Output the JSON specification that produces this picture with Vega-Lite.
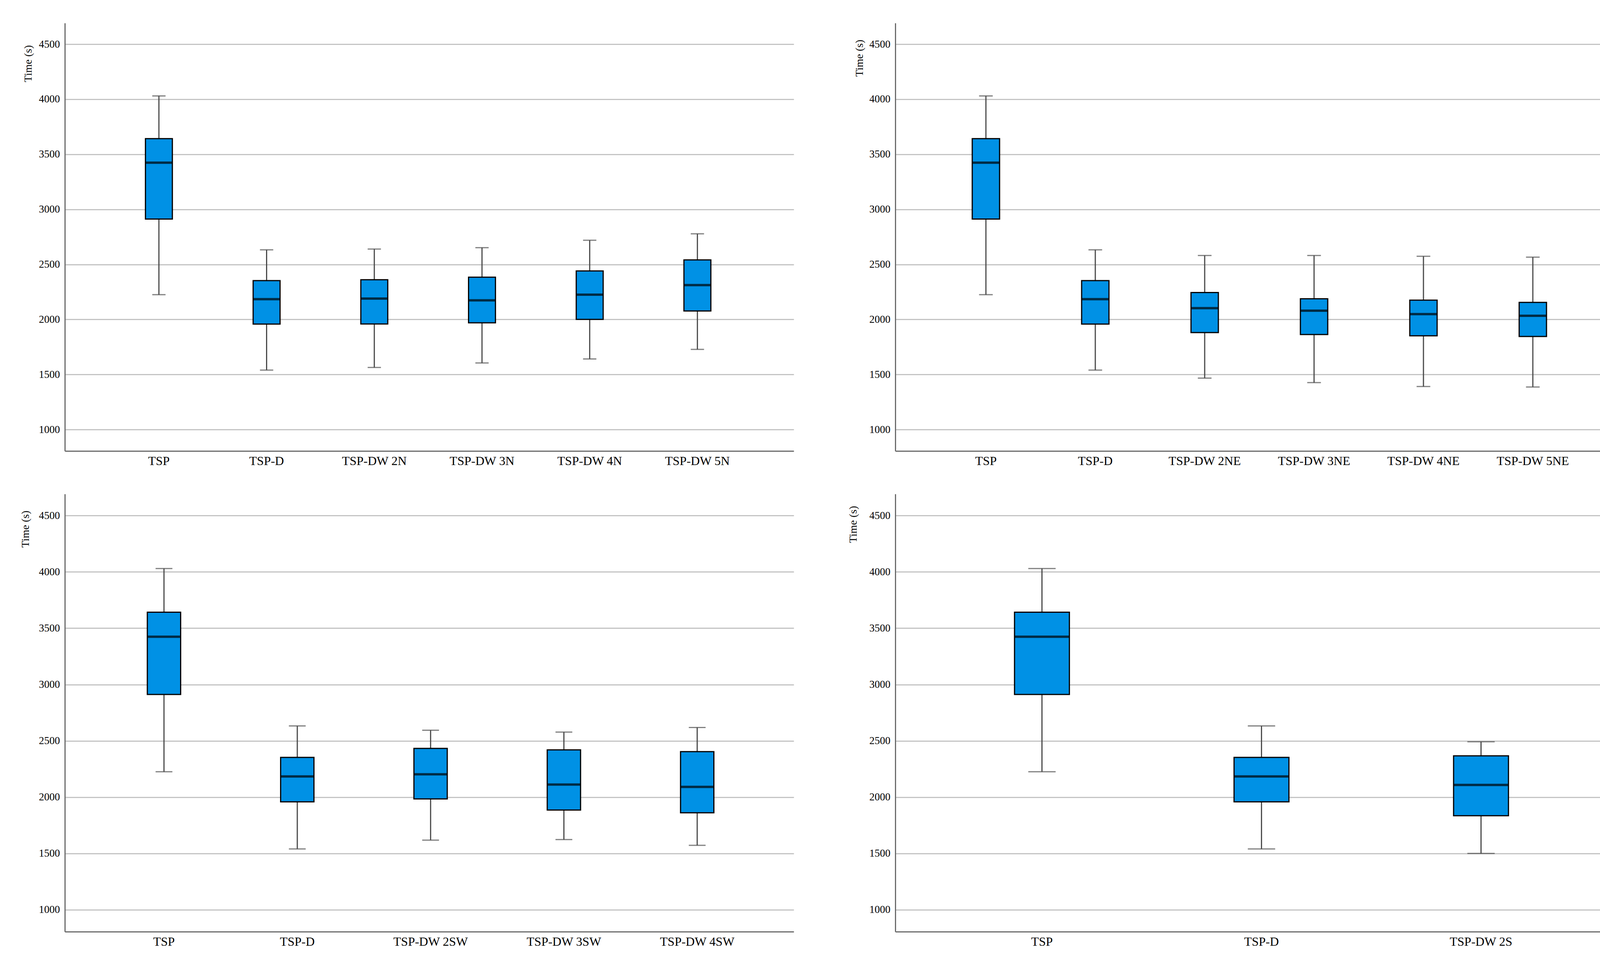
{
  "$schema": "https://vega.github.io/schema/vega-lite/v6.json",
  "background": "white",
  "padding": {"left": 50, "top": 59, "right": 5, "bottom": 5},
  "datasets": {
    "p1": [
      {"group": "TSP", "min": 2225, "q1": 2912, "median": 3424, "q3": 3642, "max": 4030},
      {"group": "TSP-D", "min": 1540, "q1": 1958, "median": 2184, "q3": 2353, "max": 2632},
      {"group": "TSP-DW 2N", "min": 1564, "q1": 1959, "median": 2189, "q3": 2361, "max": 2639},
      {"group": "TSP-DW 3N", "min": 1605, "q1": 1969, "median": 2173, "q3": 2384, "max": 2652},
      {"group": "TSP-DW 4N", "min": 1641, "q1": 2000, "median": 2225, "q3": 2441, "max": 2719},
      {"group": "TSP-DW 5N", "min": 1728, "q1": 2077, "median": 2312, "q3": 2541, "max": 2778}
    ],
    "p2": [
      {"group": "TSP", "min": 2225, "q1": 2912, "median": 3424, "q3": 3642, "max": 4030},
      {"group": "TSP-D", "min": 1540, "q1": 1958, "median": 2184, "q3": 2353, "max": 2632},
      {"group": "TSP-DW 2NE", "min": 1467, "q1": 1881, "median": 2102, "q3": 2244, "max": 2581},
      {"group": "TSP-DW 3NE", "min": 1426, "q1": 1863, "median": 2079, "q3": 2188, "max": 2581},
      {"group": "TSP-DW 4NE", "min": 1391, "q1": 1851, "median": 2048, "q3": 2175, "max": 2574},
      {"group": "TSP-DW 5NE", "min": 1386, "q1": 1845, "median": 2033, "q3": 2155, "max": 2566}
    ],
    "p3": [
      {"group": "TSP", "min": 2225, "q1": 2912, "median": 3424, "q3": 3642, "max": 4030},
      {"group": "TSP-D", "min": 1540, "q1": 1958, "median": 2184, "q3": 2353, "max": 2632},
      {"group": "TSP-DW 2SW", "min": 1618, "q1": 1984, "median": 2203, "q3": 2433, "max": 2594},
      {"group": "TSP-DW 3SW", "min": 1623, "q1": 1885, "median": 2112, "q3": 2420, "max": 2578},
      {"group": "TSP-DW 4SW", "min": 1572, "q1": 1861, "median": 2091, "q3": 2404, "max": 2618}
    ],
    "p4": [
      {"group": "TSP", "min": 2225, "q1": 2912, "median": 3424, "q3": 3642, "max": 4030},
      {"group": "TSP-D", "min": 1540, "q1": 1958, "median": 2184, "q3": 2353, "max": 2632},
      {"group": "TSP-DW 2S", "min": 1500, "q1": 1835, "median": 2108, "q3": 2367, "max": 2492}
    ]
  },
  "bounds": "flush",
  "columns": 2,
  "spacing": {"row": 110, "column": 260},
  "concat": [
    {
      "width": 1866, "height": 1095,
      "data": {"name": "p1"},
      "encoding": {
        "x": {"field": "group", "type": "nominal", "sort": null, "title": null,
              "scale": {"paddingInner": 0.75, "paddingOuter": 0.759, "align": 0.493}}
      },
      "layer": [
        {"mark": {"type": "rule", "color": "#4a4a4a", "strokeWidth": 3},
         "encoding": {"y": {"field": "min", "type": "quantitative", "title": "Time (s)",
                            "scale": {"domain": [805, 4692], "nice": false, "zero": false},
                            "axis": {"format": "d", "values": [1000, 1500, 2000, 2500, 3000, 3500, 4000, 4500], "titleX": -94, "titleY": 56}},
                      "y2": {"field": "max"}}},
        {"mark": {"type": "tick", "color": "#4a4a4a", "thickness": 3, "size": 34},
         "encoding": {"y": {"field": "min", "type": "quantitative", "title": "Time (s)",
                            "scale": {"domain": [805, 4692], "nice": false, "zero": false},
                            "axis": {"format": "d", "values": [1000, 1500, 2000, 2500, 3000, 3500, 4000, 4500], "titleX": -94, "titleY": 56}}}},
        {"mark": {"type": "tick", "color": "#4a4a4a", "thickness": 3, "size": 34},
         "encoding": {"y": {"field": "max", "type": "quantitative", "title": "Time (s)",
                            "scale": {"domain": [805, 4692], "nice": false, "zero": false},
                            "axis": {"format": "d", "values": [1000, 1500, 2000, 2500, 3000, 3500, 4000, 4500], "titleX": -94, "titleY": 56}}}},
        {"mark": {"type": "bar", "fill": "#0091e5", "stroke": "#000000", "strokeWidth": 3},
         "encoding": {"y": {"field": "q1", "type": "quantitative", "title": "Time (s)",
                            "scale": {"domain": [805, 4692], "nice": false, "zero": false},
                            "axis": {"format": "d", "values": [1000, 1500, 2000, 2500, 3000, 3500, 4000, 4500], "titleX": -94, "titleY": 56}},
                      "y2": {"field": "q3"}}},
        {"mark": {"type": "tick", "color": "#000000", "thickness": 6, "size": 69},
         "encoding": {"y": {"field": "median", "type": "quantitative", "title": "Time (s)",
                            "scale": {"domain": [805, 4692], "nice": false, "zero": false},
                            "axis": {"format": "d", "values": [1000, 1500, 2000, 2500, 3000, 3500, 4000, 4500], "titleX": -94, "titleY": 56}}}}
      ]
    },
    {
      "width": 1870, "height": 1095,
      "data": {"name": "p2"},
      "encoding": {
        "x": {"field": "group", "type": "nominal", "sort": null, "title": null,
              "scale": {"paddingInner": 0.75, "paddingOuter": 0.714, "align": 0.4925}}
      },
      "layer": [
        {"mark": {"type": "rule", "color": "#4a4a4a", "strokeWidth": 3},
         "encoding": {"y": {"field": "min", "type": "quantitative", "title": "Time (s)",
                            "scale": {"domain": [805, 4692], "nice": false, "zero": false},
                            "axis": {"format": "d", "values": [1000, 1500, 2000, 2500, 3000, 3500, 4000, 4500], "titleX": -92, "titleY": 42}},
                      "y2": {"field": "max"}}},
        {"mark": {"type": "tick", "color": "#4a4a4a", "thickness": 3, "size": 35},
         "encoding": {"y": {"field": "min", "type": "quantitative", "title": "Time (s)",
                            "scale": {"domain": [805, 4692], "nice": false, "zero": false},
                            "axis": {"format": "d", "values": [1000, 1500, 2000, 2500, 3000, 3500, 4000, 4500], "titleX": -92, "titleY": 42}}}},
        {"mark": {"type": "tick", "color": "#4a4a4a", "thickness": 3, "size": 35},
         "encoding": {"y": {"field": "max", "type": "quantitative", "title": "Time (s)",
                            "scale": {"domain": [805, 4692], "nice": false, "zero": false},
                            "axis": {"format": "d", "values": [1000, 1500, 2000, 2500, 3000, 3500, 4000, 4500], "titleX": -92, "titleY": 42}}}},
        {"mark": {"type": "bar", "fill": "#0091e5", "stroke": "#000000", "strokeWidth": 3},
         "encoding": {"y": {"field": "q1", "type": "quantitative", "title": "Time (s)",
                            "scale": {"domain": [805, 4692], "nice": false, "zero": false},
                            "axis": {"format": "d", "values": [1000, 1500, 2000, 2500, 3000, 3500, 4000, 4500], "titleX": -92, "titleY": 42}},
                      "y2": {"field": "q3"}}},
        {"mark": {"type": "tick", "color": "#000000", "thickness": 6, "size": 70},
         "encoding": {"y": {"field": "median", "type": "quantitative", "title": "Time (s)",
                            "scale": {"domain": [805, 4692], "nice": false, "zero": false},
                            "axis": {"format": "d", "values": [1000, 1500, 2000, 2500, 3000, 3500, 4000, 4500], "titleX": -92, "titleY": 42}}}}
      ]
    },
    {
      "width": 1866, "height": 1120,
      "data": {"name": "p3"},
      "encoding": {
        "x": {"field": "group", "type": "nominal", "sort": null, "title": null,
              "scale": {"paddingInner": 0.75, "paddingOuter": 0.609, "align": 0.508}}
      },
      "layer": [
        {"mark": {"type": "rule", "color": "#4a4a4a", "strokeWidth": 3},
         "encoding": {"y": {"field": "min", "type": "quantitative", "title": "Time (s)",
                            "scale": {"domain": [805, 4692], "nice": false, "zero": false},
                            "axis": {"format": "d", "values": [1000, 1500, 2000, 2500, 3000, 3500, 4000, 4500], "titleX": -101, "titleY": 42}},
                      "y2": {"field": "max"}}},
        {"mark": {"type": "tick", "color": "#4a4a4a", "thickness": 3, "size": 43},
         "encoding": {"y": {"field": "min", "type": "quantitative", "title": "Time (s)",
                            "scale": {"domain": [805, 4692], "nice": false, "zero": false},
                            "axis": {"format": "d", "values": [1000, 1500, 2000, 2500, 3000, 3500, 4000, 4500], "titleX": -101, "titleY": 42}}}},
        {"mark": {"type": "tick", "color": "#4a4a4a", "thickness": 3, "size": 43},
         "encoding": {"y": {"field": "max", "type": "quantitative", "title": "Time (s)",
                            "scale": {"domain": [805, 4692], "nice": false, "zero": false},
                            "axis": {"format": "d", "values": [1000, 1500, 2000, 2500, 3000, 3500, 4000, 4500], "titleX": -101, "titleY": 42}}}},
        {"mark": {"type": "bar", "fill": "#0091e5", "stroke": "#000000", "strokeWidth": 3},
         "encoding": {"y": {"field": "q1", "type": "quantitative", "title": "Time (s)",
                            "scale": {"domain": [805, 4692], "nice": false, "zero": false},
                            "axis": {"format": "d", "values": [1000, 1500, 2000, 2500, 3000, 3500, 4000, 4500], "titleX": -101, "titleY": 42}},
                      "y2": {"field": "q3"}}},
        {"mark": {"type": "tick", "color": "#000000", "thickness": 6, "size": 85},
         "encoding": {"y": {"field": "median", "type": "quantitative", "title": "Time (s)",
                            "scale": {"domain": [805, 4692], "nice": false, "zero": false},
                            "axis": {"format": "d", "values": [1000, 1500, 2000, 2500, 3000, 3500, 4000, 4500], "titleX": -101, "titleY": 42}}}}
      ]
    },
    {
      "width": 1870, "height": 1120,
      "data": {"name": "p4"},
      "encoding": {
        "x": {"field": "group", "type": "nominal", "sort": null, "title": null,
              "scale": {"paddingInner": 0.75, "paddingOuter": 0.5387, "align": 0.504}}
      },
      "layer": [
        {"mark": {"type": "rule", "color": "#4a4a4a", "strokeWidth": 3},
         "encoding": {"y": {"field": "min", "type": "quantitative", "title": "Time (s)",
                            "scale": {"domain": [805, 4692], "nice": false, "zero": false},
                            "axis": {"format": "d", "values": [1000, 1500, 2000, 2500, 3000, 3500, 4000, 4500], "titleX": -108, "titleY": 30}},
                      "y2": {"field": "max"}}},
        {"mark": {"type": "tick", "color": "#4a4a4a", "thickness": 3, "size": 70},
         "encoding": {"y": {"field": "min", "type": "quantitative", "title": "Time (s)",
                            "scale": {"domain": [805, 4692], "nice": false, "zero": false},
                            "axis": {"format": "d", "values": [1000, 1500, 2000, 2500, 3000, 3500, 4000, 4500], "titleX": -108, "titleY": 30}}}},
        {"mark": {"type": "tick", "color": "#4a4a4a", "thickness": 3, "size": 70},
         "encoding": {"y": {"field": "max", "type": "quantitative", "title": "Time (s)",
                            "scale": {"domain": [805, 4692], "nice": false, "zero": false},
                            "axis": {"format": "d", "values": [1000, 1500, 2000, 2500, 3000, 3500, 4000, 4500], "titleX": -108, "titleY": 30}}}},
        {"mark": {"type": "bar", "fill": "#0091e5", "stroke": "#000000", "strokeWidth": 3},
         "encoding": {"y": {"field": "q1", "type": "quantitative", "title": "Time (s)",
                            "scale": {"domain": [805, 4692], "nice": false, "zero": false},
                            "axis": {"format": "d", "values": [1000, 1500, 2000, 2500, 3000, 3500, 4000, 4500], "titleX": -108, "titleY": 30}},
                      "y2": {"field": "q3"}}},
        {"mark": {"type": "tick", "color": "#000000", "thickness": 6, "size": 140},
         "encoding": {"y": {"field": "median", "type": "quantitative", "title": "Time (s)",
                            "scale": {"domain": [805, 4692], "nice": false, "zero": false},
                            "axis": {"format": "d", "values": [1000, 1500, 2000, 2500, 3000, 3500, 4000, 4500], "titleX": -108, "titleY": 30}}}}
      ]
    }
  ],
  "config": {
    "view": {"stroke": null},
    "font": "Liberation Serif",
    "axis": {
      "labelFont": "Liberation Serif", "titleFont": "Liberation Serif",
      "labelColor": "#000000", "titleColor": "#000000", "titleFontWeight": "normal",
      "domainColor": "#6b6b6b", "domainWidth": 3, "ticks": false, "tickSize": 0
    },
    "axisY": {
      "grid": true, "gridColor": "#c4c4c4", "gridWidth": 3,
      "labelFontSize": 27, "titleFontSize": 28, "labelPadding": 13,
      "titleAngle": -90, "titleAlign": "right", "titleBaseline": "middle"
    },
    "axisX": {"grid": false, "labelFontSize": 32, "labelAngle": 0, "labelPadding": 10, "labelLimit": 0}
  }
}
